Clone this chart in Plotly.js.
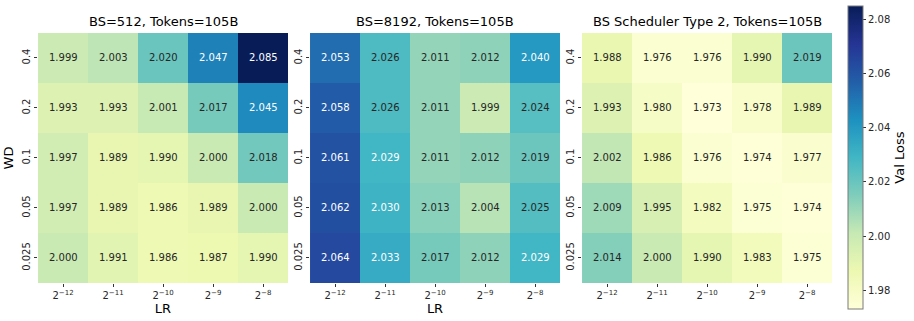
<!DOCTYPE html>
<html>
<head>
<meta charset="utf-8">
<script src="https://cdn.plot.ly/plotly-3.0.1.min.js"></script>
<style>
  html, body { margin: 0; padding: 0; background: #fff; }
  #chart { width: 914px; height: 321px; }
</style>
</head>
<body>
<div id="chart"></div>
<script>
// axis categories
const lrLabels = ['2<sup>−12</sup>', '2<sup>−11</sup>', '2<sup>−10</sup>', '2<sup>−9</sup>', '2<sup>−8</sup>'];
const wdLabels = ['0.4', '0.2', '0.1', '0.05', '0.025'];

// panel titles
const panelTitles = ['BS=512, Tokens=105B', 'BS=8192, Tokens=105B', 'BS Scheduler Type 2, Tokens=105B'];

// val loss, rows = WD (top to bottom), cols = LR
const bs512 = [
    [1.999, 2.003, 2.020, 2.047, 2.085],
    [1.993, 1.993, 2.001, 2.017, 2.045],
    [1.997, 1.989, 1.990, 2.000, 2.018],
    [1.997, 1.989, 1.986, 1.989, 2.000],
    [2.000, 1.991, 1.986, 1.987, 1.990]
];
const bs8192 = [
    [2.053, 2.026, 2.011, 2.012, 2.040],
    [2.058, 2.026, 2.011, 1.999, 2.024],
    [2.061, 2.029, 2.011, 2.012, 2.019],
    [2.062, 2.030, 2.013, 2.004, 2.025],
    [2.064, 2.033, 2.017, 2.012, 2.029]
];
const bsSched2 = [
    [1.988, 1.976, 1.976, 1.990, 2.019],
    [1.993, 1.980, 1.973, 1.978, 1.989],
    [2.002, 1.986, 1.976, 1.974, 1.977],
    [2.009, 1.995, 1.982, 1.975, 1.974],
    [2.014, 2.000, 1.990, 1.983, 1.975]
];

const zMin = 1.973;
const zMax = 2.085;

// matplotlib YlGnBu
const ylgnbu = [
    [0.000, '#ffffd9'],
    [0.125, '#edf8b1'],
    [0.250, '#c7e9b4'],
    [0.375, '#7fcdbb'],
    [0.500, '#41b6c4'],
    [0.625, '#1d91c0'],
    [0.750, '#225ea8'],
    [0.875, '#253494'],
    [1.000, '#081d58']
];

const panels = [bs512, bs8192, bsSched2];
const xDomains = [[0.0416, 0.3151], [0.3392, 0.6127], [0.6368, 0.9103]];
const yDomain = [0.1184, 0.8972];
const font = 'DejaVu Sans, sans-serif';

let traces = [];
let annotations = [];
let layout = {
    width: 914,
    height: 321,
    margin: {l: 0, r: 0, t: 0, b: 0},
    paper_bgcolor: '#fff',
    plot_bgcolor: '#fff',
    font: {family: font, size: 10, color: '#262626'},
    showlegend: false
};

panels.forEach(function(z, p) {
    let n = p === 0 ? '' : String(p + 1);
    traces.push({
        type: 'heatmap',
        z: z,
        x: lrLabels,
        y: wdLabels,
        xaxis: 'x' + n,
        yaxis: 'y' + n,
        colorscale: ylgnbu,
        zmin: zMin,
        zmax: zMax,
        xgap: 0,
        ygap: 0,
        hoverinfo: 'skip',
        showscale: p === 2,
        colorbar: {
            x: 0.9278,
            xanchor: 'left',
            xpad: 0,
            ypad: 0,
            y: 0.509,
            yanchor: 'middle',
            len: 0.944,
            lenmode: 'fraction',
            thickness: 15,
            outlinecolor: '#7a7a7a',
            outlinewidth: 1,
            tickvals: [1.98, 2.00, 2.02, 2.04, 2.06, 2.08],
            ticktext: ['1.98', '2.00', '2.02', '2.04', '2.06', '2.08'],
            ticks: 'outside',
            ticklen: 3,
            tickcolor: '#333',
            tickfont: {family: font, size: 10, color: '#262626'},
            title: {text: 'Val Loss', side: 'right', font: {family: font, size: 13, color: '#000'}}
        }
    });

    layout['xaxis' + n] = {
        domain: xDomains[p],
        anchor: 'y' + n,
        type: 'category',
        showgrid: false,
        zeroline: false,
        showline: false,
        ticks: 'outside',
        ticklen: 3,
        tickcolor: '#333',
        tickfont: {family: font, size: 10, color: '#262626'},
        title: p < 2 ? {text: 'LR', font: {family: font, size: 13, color: '#000'}, standoff: 1} : {text: ''}
    };
    layout['yaxis' + n] = {
        domain: yDomain,
        anchor: 'x' + n,
        type: 'category',
        autorange: 'reversed',
        showgrid: false,
        zeroline: false,
        showline: false,
        ticks: 'outside',
        ticklen: 3,
        tickcolor: '#333',
        tickangle: -90,
        tickfont: {family: font, size: 10, color: '#262626'},
        title: p === 0 ? {text: 'WD', font: {family: font, size: 13, color: '#000'}, standoff: 4} : {text: ''}
    };

    // panel title
    annotations.push({
        xref: 'paper', yref: 'paper',
        x: (xDomains[p][0] + xDomains[p][1]) / 2,
        xanchor: 'center',
        y: yDomain[1],
        yanchor: 'bottom',
        yshift: 2,
        showarrow: false,
        text: panelTitles[p],
        font: {family: font, size: 13, color: '#000'}
    });

    // cell values (category index positions)
    for (let r = 0; r < z.length; r++) {
        for (let c = 0; c < z[r].length; c++) {
            let v = z[r][c];
            annotations.push({
                xref: 'x' + n, yref: 'y' + n,
                x: c, y: r,
                xanchor: 'center', yanchor: 'middle',
                showarrow: false,
                text: v.toFixed(3),
                font: {family: font, size: 10, color: v > 2.027 ? '#ffffff' : '#262626'}
            });
        }
    }
});

layout.annotations = annotations;

Plotly.newPlot('chart', traces, layout, {displayModeBar: false, staticPlot: true});
</script>
</body>
</html>
